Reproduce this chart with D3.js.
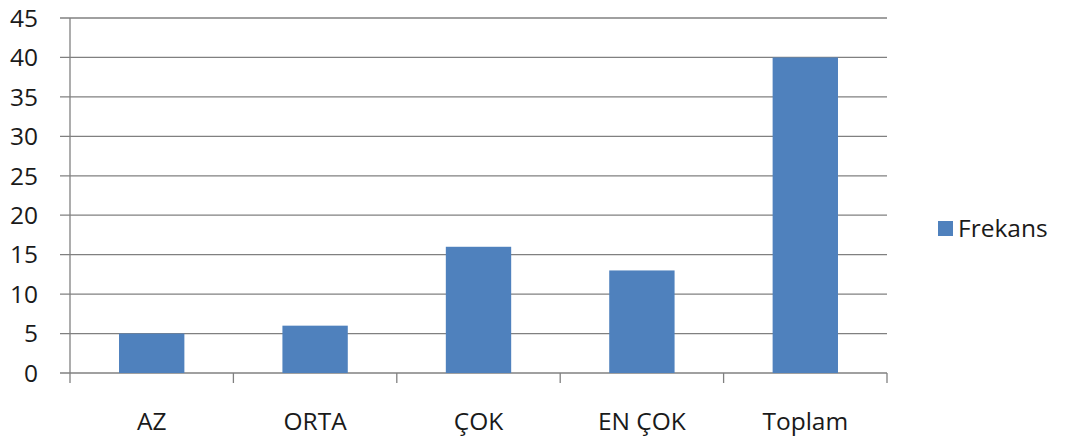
<!DOCTYPE html>
<html><head><meta charset="utf-8">
<script src="https://cdn.jsdelivr.net/npm/d3@7"></script>
<style>body{margin:0;background:#fff}svg{display:block}</style>
</head><body>
<script>
const categories = ["AZ", "ORTA", "ÇOK", "EN ÇOK", "Toplam"];
const frekans = [5, 6, 16, 13, 40];
const yTicks = [0, 5, 10, 15, 20, 25, 30, 35, 40, 45];
const seriesName = "Frekans";

(function () {
const W = 1070, H = 439;
const mLeft = 70, mRight = 887, mTop = 18, mBottom = 373;
const font = "'Open Sans', sans-serif";
const fs = 24.5;

const svg = d3.select("body").append("svg").attr("width", W).attr("height", H);

const x = d3.scaleBand().domain(categories).range([mLeft, mRight]).paddingInner(0.6).paddingOuter(0.3);
const y = d3.scaleLinear().domain([0, 45]).range([mBottom, mTop]);

// gridlines
svg.append("g").selectAll("line").data(yTicks).join("line")
  .attr("x1", mLeft - 10).attr("x2", mRight)
  .attr("y1", d => y(d)).attr("y2", d => y(d))
  .attr("stroke", "#808080").attr("stroke-width", 1.3);

// y axis line
svg.append("line").attr("x1", mLeft).attr("x2", mLeft).attr("y1", mTop).attr("y2", mBottom)
  .attr("stroke", "#808080").attr("stroke-width", 1.3);

// y labels
svg.append("g").selectAll("text").data(yTicks).join("text")
  .attr("x", 38).attr("y", d => y(d)).attr("dy", "0.36em")
  .attr("text-anchor", "end").attr("font-family", font).attr("font-size", fs)
  .attr("fill", "#1a1a1a").text(d => d);

// x category ticks
const bounds = d3.range(categories.length + 1).map(i => mLeft + i * (mRight - mLeft) / categories.length);
svg.append("g").selectAll("line").data(bounds).join("line")
  .attr("x1", d => d).attr("x2", d => d).attr("y1", mBottom).attr("y2", mBottom + 10)
  .attr("stroke", "#808080").attr("stroke-width", 1.3);

// bars
svg.append("g").selectAll("rect").data(frekans).join("rect")
  .attr("x", (d, i) => x(categories[i]))
  .attr("width", x.bandwidth())
  .attr("y", d => y(d))
  .attr("height", d => y(0) - y(d))
  .attr("fill", "#4F81BD");

// x labels
svg.append("g").selectAll("text").data(categories).join("text")
  .attr("x", d => x(d) + x.bandwidth() / 2).attr("y", 430)
  .attr("text-anchor", "middle").attr("font-family", font).attr("font-size", fs)
  .attr("fill", "#1a1a1a").text(d => d);

// legend
const lg = svg.append("g").attr("transform", "translate(938,221)");
lg.append("rect").attr("width", 15).attr("height", 15).attr("fill", "#4F81BD");
lg.append("text").attr("x", 20).attr("y", 7.5).attr("dy", "0.36em")
  .attr("font-family", font).attr("font-size", fs).attr("fill", "#1a1a1a").text(seriesName);
})();
</script>
</body></html>
